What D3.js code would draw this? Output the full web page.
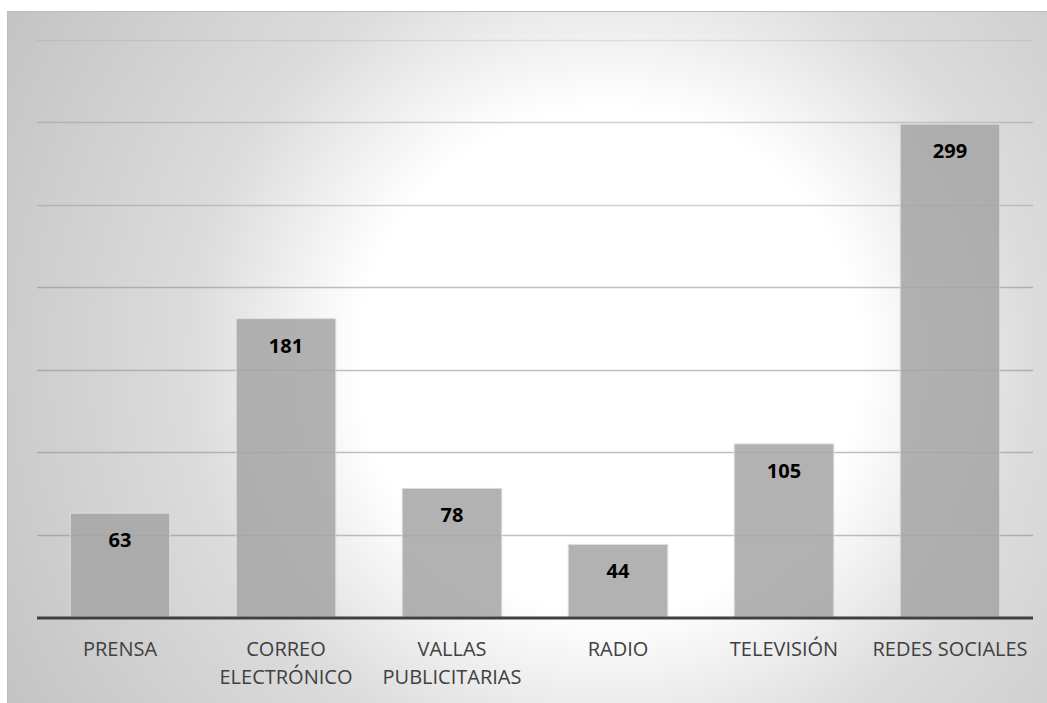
<!DOCTYPE html>
<html>
<head>
<meta charset="utf-8">
<script src="https://cdn.jsdelivr.net/npm/d3@7"></script>
<style>
  body { margin: 0; background: #fff; }
  svg { display: block; }
</style>
</head>
<body>
<div id="chart"></div>
<script>
// Podaci
const categories = [["PRENSA"], ["CORREO", "ELECTRÓNICO"], ["VALLAS", "PUBLICITARIAS"], ["RADIO"], ["TELEVISIÓN"], ["REDES SOCIALES"]];
const values = [63, 181, 78, 44, 105, 299];
const gridTicks = [50, 100, 150, 200, 250, 300, 350];

const width = 1047, height = 703;
const plot = { left: 37, right: 1033, top: 40, bottom: 617 };

const svg = d3.select("#chart").append("svg")
  .attr("width", width)
  .attr("height", height);

// Pozadina s radijalnim gradijentom
const grad = svg.append("defs").append("radialGradient")
  .attr("id", "bg")
  .attr("gradientUnits", "userSpaceOnUse")
  .attr("cx", 610).attr("cy", 360).attr("r", 700);
grad.append("stop").attr("offset", 0).attr("stop-color", "#ffffff");
grad.append("stop").attr("offset", 0.36).attr("stop-color", "#ffffff");
grad.append("stop").attr("offset", 0.6).attr("stop-color", "#dcdcdc");
grad.append("stop").attr("offset", 1).attr("stop-color", "#c3c3c3");

svg.append("rect")
  .attr("x", 7.5).attr("y", 11.5)
  .attr("width", width - 7).attr("height", height - 11)
  .attr("fill", "url(#bg)")
  .attr("stroke", "#bdbdbd");

const labels = categories.map(c => c.join(" "));

const x = d3.scaleBand()
  .domain(labels)
  .range([plot.left, plot.right])
  .paddingInner(0.4)
  .paddingOuter(0.2);

const y = d3.scaleLinear()
  .domain([0, 350])
  .range([plot.bottom, plot.top]);

// Mreža
svg.append("g")
  .selectAll("line")
  .data(gridTicks)
  .join("line")
  .attr("x1", plot.left).attr("x2", plot.right)
  .attr("y1", d => Math.round(y(d)) + 0.5)
  .attr("y2", d => Math.round(y(d)) + 0.5)
  .attr("stroke", "#8c8c8c")
  .attr("stroke-opacity", d => d === 350 ? 0.2 : (d >= 250 ? 0.4 : 0.55))
  .attr("stroke-width", 1.3);

// Stupci
svg.append("g")
  .selectAll("rect")
  .data(values)
  .join("rect")
  .attr("x", (d, i) => x(labels[i]))
  .attr("y", d => y(d))
  .attr("width", x.bandwidth())
  .attr("height", d => plot.bottom - y(d))
  .attr("fill", "#a5a5a5")
  .attr("fill-opacity", 0.85)
  .attr("stroke", "#dedede")
  .attr("stroke-width", 1);

// Oznake vrijednosti
svg.append("g")
  .selectAll("text")
  .data(values)
  .join("text")
  .attr("x", (d, i) => x(labels[i]) + x.bandwidth() / 2)
  .attr("y", d => y(d) + 34)
  .attr("text-anchor", "middle")
  .style("font-family", "'Open Sans', sans-serif")
  .style("font-weight", "bold")
  .style("font-size", "20px")
  .attr("fill", "#000")
  .text(d => d);

// Osnovna linija
svg.append("line")
  .attr("x1", plot.left).attr("x2", plot.right)
  .attr("y1", plot.bottom + 1).attr("y2", plot.bottom + 1)
  .attr("stroke", "#404040")
  .attr("stroke-width", 3);

// Nazivi kategorija
const catLabels = svg.append("g")
  .selectAll("text")
  .data(categories)
  .join("text")
  .attr("x", (d, i) => x(labels[i]) + x.bandwidth() / 2)
  .attr("y", 656)
  .attr("text-anchor", "middle")
  .style("font-family", "'Open Sans', sans-serif")
  .style("font-size", "20px")
  .attr("fill", "#404040");

catLabels.selectAll("tspan")
  .data(d => d)
  .join("tspan")
  .attr("x", function () { return d3.select(this.parentNode).attr("x"); })
  .attr("dy", (d, i) => i === 0 ? 0 : 28)
  .text(d => d);
</script>
</body>
</html>
